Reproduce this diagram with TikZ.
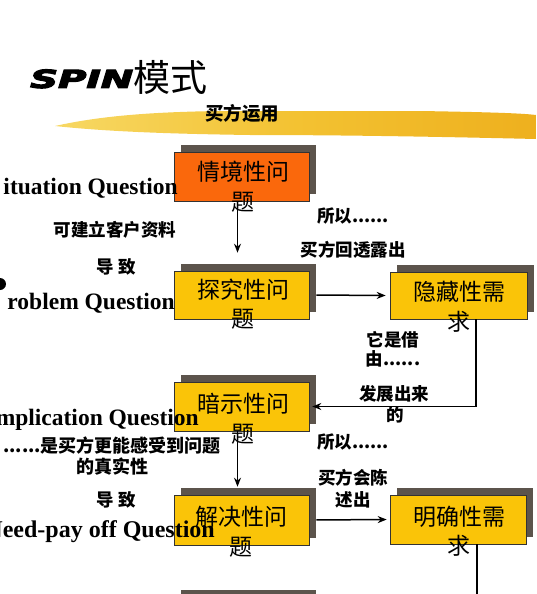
\documentclass[tikz,border=0pt]{standalone}
\usepackage{fontspec}
\setmainfont{Liberation Serif}
\newfontfamily\cjk{Noto Sans CJK SC}
\newfontface\spinfont{DejaVu Sans Bold Oblique}[FakeBold=4]
\usetikzlibrary{shadows,arrows.meta,calc}
\definecolor{shadowc}{RGB}{92,84,76}
\definecolor{boxyellow}{RGB}{250,196,8}
\definecolor{boxorange}{RGB}{250,104,12}
\definecolor{brushA}{RGB}{247,216,100}
\definecolor{brushB}{RGB}{243,194,50}
\definecolor{brushC}{RGB}{238,176,30}
\tikzset{
  qbox/.style={draw=black!80, line width=0.6pt, minimum width=135pt, minimum height=49pt, inner sep=0pt,
    drop shadow={shadow xshift=7pt, shadow yshift=7pt, fill=shadowc, opacity=1}},
  boxtext/.style={font=\cjk\fontsize{23}{29.5}\selectfont, align=center, inner sep=0pt},
  lbl/.style={font=\cjk\bfseries\fontsize{17.5}{21}\selectfont, align=center, inner sep=0pt},
  qtext/.style={font=\bfseries\fontsize{23.5}{26}\selectfont, inner sep=0pt, anchor=base east},
  arr/.style={line width=1.5pt, -{Stealth[length=9pt,width=7pt]}},
  plainline/.style={line width=1.5pt},
}
\begin{document}
\begin{tikzpicture}[x=1pt,y=-1pt]
\path[use as bounding box] (0,0) rectangle (536,594);
\clip (0,0) rectangle (536,594);
% brush stroke
\shade[left color=brushA, right color=brushC, middle color=brushB]
  (55,126) .. controls (100,116) and (150,112) .. (220,111) -- (420,111)
  .. controls (480,112) and (520,113) .. (536,115) -- (536,139)
  .. controls (450,137) and (350,135) .. (250,135)
  .. controls (180,134) and (110,132) .. (55,126) -- cycle;
% title
\node[anchor=south west, inner sep=0pt] (spin) at (30,88.5) {\resizebox{103pt}{18.5pt}{\spinfont SPIN}};
\node[anchor=west, inner sep=0pt, font=\cjk\fontsize{37}{40}\selectfont] (moshi) at (133,77) {模式};
\node[lbl, font=\cjk\bfseries\fontsize{18.5}{20}\selectfont] (yong) at (242,113) {买方运用};
% boxes
\node[qbox, fill=boxorange] (b1) at (241.5,176.5) {};
\node[qbox, fill=boxyellow, minimum height=48pt] (b2) at (241.5,295) {};
\node[qbox, fill=boxyellow, minimum width=137pt, minimum height=47pt] (b3) at (458.5,295.5) {};
\node[qbox, fill=boxyellow] (b4) at (241.5,406.5) {};
\node[qbox, fill=boxyellow, minimum height=50pt] (b5) at (241.5,520) {};
\node[qbox, fill=boxyellow, minimum width=136pt] (b6) at (458,519.5) {};
\node[qbox, fill=boxyellow] (b7) at (241.5,621.5) {};
% connectors
\coordinate (bend) at (477,600);
\draw[arr, shorten >=18pt] ([xshift=-4pt]b1.south) -- ([xshift=-4pt]b2.north);
\draw[arr, shorten <=7pt, shorten >=4pt] (b2.east) -- (b3.west);
\draw[arr] ([xshift=17.5pt]b3.south) |- ([xshift=3pt]b4.east);
\draw[arr, shorten >=8pt] ([xshift=-4pt]b4.south) -- ([xshift=-4pt]b5.north);
\draw[arr, shorten <=7pt, shorten >=3pt] (b5.east) -- (b6.west);
\draw[plainline] ([xshift=19pt]b6.south) -- (bend);
% box texts
\node[boxtext] (b1t) at (243,186.5) {情境性问\\题};
\node[boxtext] (b2t) at (243,304) {探究性问\\题};
\node[boxtext] (b3t) at (459,307) {隐藏性需\\求};
\node[boxtext] (b4t) at (243,418.5) {暗示性问\\题};
\node[boxtext] (b5t) at (241,531.5) {解决性问\\题};
\node[boxtext] (b6t) at (459,531) {明确性需\\求};
% left question labels
\fill (0,284) circle (6);
\node[qtext] (qs) at (178,194) {ituation Question};
\node[qtext] (qp) at (175,309) {roblem Question};
\node[qtext] (qi) at (199,425) {mplication Question};
\node[qtext, font=\bfseries\fontsize{24}{26}\selectfont] (qn) at (215,537) {Need-pay off Question};
% left notes
\node[lbl] (l1) at (115,230) {可建立客户资料};
\node[lbl] (l2) at (116,267) {导 致};
\node[lbl, font=\cjk\bfseries\fontsize{18}{21}\selectfont] (l3) at (112,446) {......是买方更能感受到问题};
\node[lbl, font=\cjk\bfseries\fontsize{18}{21}\selectfont] (l4) at (112,467) {的真实性};
\node[lbl] (l5) at (116,500) {导 致};
% right notes
\node[lbl] (r1) at (353,216) {所以......};
\node[lbl] (r2) at (353,250) {买方回透露出};
\node[lbl, font=\cjk\bfseries\fontsize{17.5}{19}\selectfont] (r3) at (393,349.5) {它是借\\由......};
\node[lbl] (r4) at (394,394) {发展出来};
\node[lbl] (r5) at (395,415) {的};
\node[lbl] (r6) at (353,442) {所以......};
\node[lbl, font=\cjk\bfseries\fontsize{17.5}{22}\selectfont] (r7) at (353,489) {买方会陈\\述出};
\end{tikzpicture}
\end{document}
